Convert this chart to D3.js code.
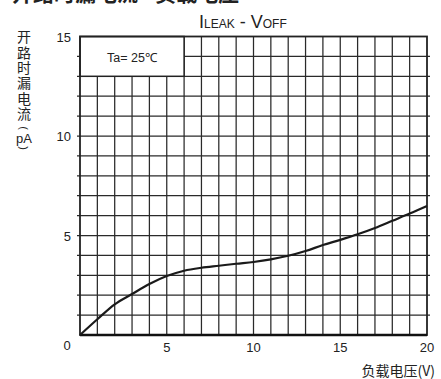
<!DOCTYPE html>
<html><head><meta charset="utf-8">
<script src="https://cdn.jsdelivr.net/npm/d3@7"></script>
<style>body{margin:0;background:#fff}svg{display:block}</style>
</head><body>
<svg id="c" width="441" height="379"></svg>
<script>
const voltage = [0,1,2,3,4,5,6,7,8,9,10,11,12,13,14,15,16,17,18,19,20];
const leakage = [0,0.79,1.54,2.06,2.56,2.96,3.23,3.38,3.48,3.58,3.67,3.8,3.98,4.22,4.52,4.78,5.06,5.38,5.74,6.1,6.48];
const xTicks = [5,10,15,20];
const yTicks = [5,10,15];
const topTitle = "开路时漏电流 - 负载电压";
const yTitle = "开路时漏电流";
const xTitle = "负载电压(V)";
const legendText = "Ta= 25℃";

const svg = d3.select("#c");
const font = "'Liberation Sans', Arial, sans-serif";
const cjk = "'Noto Sans CJK SC', sans-serif";
const x = d3.scaleLinear().domain([0,20]).range([80,427]);
const y = d3.scaleLinear().domain([0,15]).range([335,36.5]);

// grid
const g = svg.append("g");
g.selectAll("line.v").data(d3.range(1,20)).enter().append("line")
  .attr("x1",d=>x(d)).attr("x2",d=>x(d)).attr("y1",y(0)).attr("y2",y(15))
  .attr("stroke","#2a2a2a").attr("stroke-width",1.25);
g.selectAll("line.h").data(d3.range(1,15)).enter().append("line")
  .attr("x1",x(0)-3).attr("x2",x(20)+3).attr("y1",d=>y(d)).attr("y2",d=>y(d))
  .attr("stroke","#2a2a2a").attr("stroke-width",1.25);

// legend box
svg.append("rect").attr("x",x(0)).attr("y",y(15)).attr("width",x(6)-x(0)).attr("height",y(13)-y(15))
  .attr("fill","#fff").attr("stroke","#222").attr("stroke-width",1.5);
svg.append("text").attr("x",(x(0)+x(6))/2).attr("y",62).attr("text-anchor","middle")
  .attr("font-family",font).attr("font-size",12.5).attr("fill","#222").text(legendText);

// border
svg.append("rect").attr("x",x(0)).attr("y",y(15)).attr("width",x(20)-x(0)).attr("height",y(0)-y(15))
  .attr("fill","none").attr("stroke","#222").attr("stroke-width",1.8);
svg.append("line").attr("x1",x(0)).attr("x2",x(20)).attr("y1",y(0)).attr("y2",y(0))
  .attr("stroke","#111").attr("stroke-width",2.6);

// curve
const line = d3.line().x((d,i)=>x(voltage[i])).y(d=>y(d)).curve(d3.curveMonotoneX);
svg.append("path").datum(leakage).attr("d",line).attr("fill","none")
  .attr("stroke","#1a1a1a").attr("stroke-width",2.2);

// axes labels
svg.selectAll("text.xt").data(xTicks).enter().append("text")
  .attr("x",d=>x(d)).attr("y",352).attr("text-anchor","middle")
  .attr("font-family",font).attr("font-size",13).attr("fill","#222").text(d=>d);
svg.selectAll("text.yt").data(yTicks).enter().append("text")
  .attr("x",71).attr("y",d=>y(d)+5).attr("text-anchor","end")
  .attr("font-family",font).attr("font-size",13).attr("fill","#222").text(d=>d);
svg.append("text").attr("x",67).attr("y",350).attr("text-anchor","middle")
  .attr("font-family",font).attr("font-size",13).attr("fill","#222").text("0");

// chart title
const t = svg.append("text").attr("x",199).attr("y",28).attr("font-family",font).attr("fill","#222");
t.append("tspan").attr("font-size",18).text("I");
t.append("tspan").attr("font-size",12).text("LEAK");
t.append("tspan").attr("font-size",18).text(" - V");
t.append("tspan").attr("font-size",12).text("OFF");

// top cropped title
svg.append("text").attr("x",12).attr("y",1).attr("font-family",cjk).attr("font-weight","bold")
  .attr("font-size",21).attr("fill","#222").text(topTitle);

// y axis title (vertical)
svg.append("text").attr("x",24).attr("y",30)
  .attr("font-family",cjk).attr("font-size",14).attr("fill","#222")
  .style("writing-mode","vertical-rl").attr("letter-spacing",1.3).text(yTitle);
svg.append("text").attr("x",24).attr("y",132).attr("text-anchor","middle")
  .attr("font-family",font).attr("font-size",11).attr("fill","#222")
  .attr("transform","rotate(90,24,128)").text("(");
svg.append("text").attr("x",24).attr("y",143).attr("text-anchor","middle")
  .attr("font-family",font).attr("font-size",13).attr("fill","#222").text("pA");
svg.append("text").attr("x",24).attr("y",152).attr("text-anchor","middle")
  .attr("font-family",font).attr("font-size",11).attr("fill","#222")
  .attr("transform","rotate(90,24,148)").text(")");

// x axis title
svg.append("text").attr("x",435).attr("y",376).attr("text-anchor","end")
  .attr("font-family",cjk).attr("font-size",14).attr("fill","#222").text(xTitle);
</script>
</body></html>
